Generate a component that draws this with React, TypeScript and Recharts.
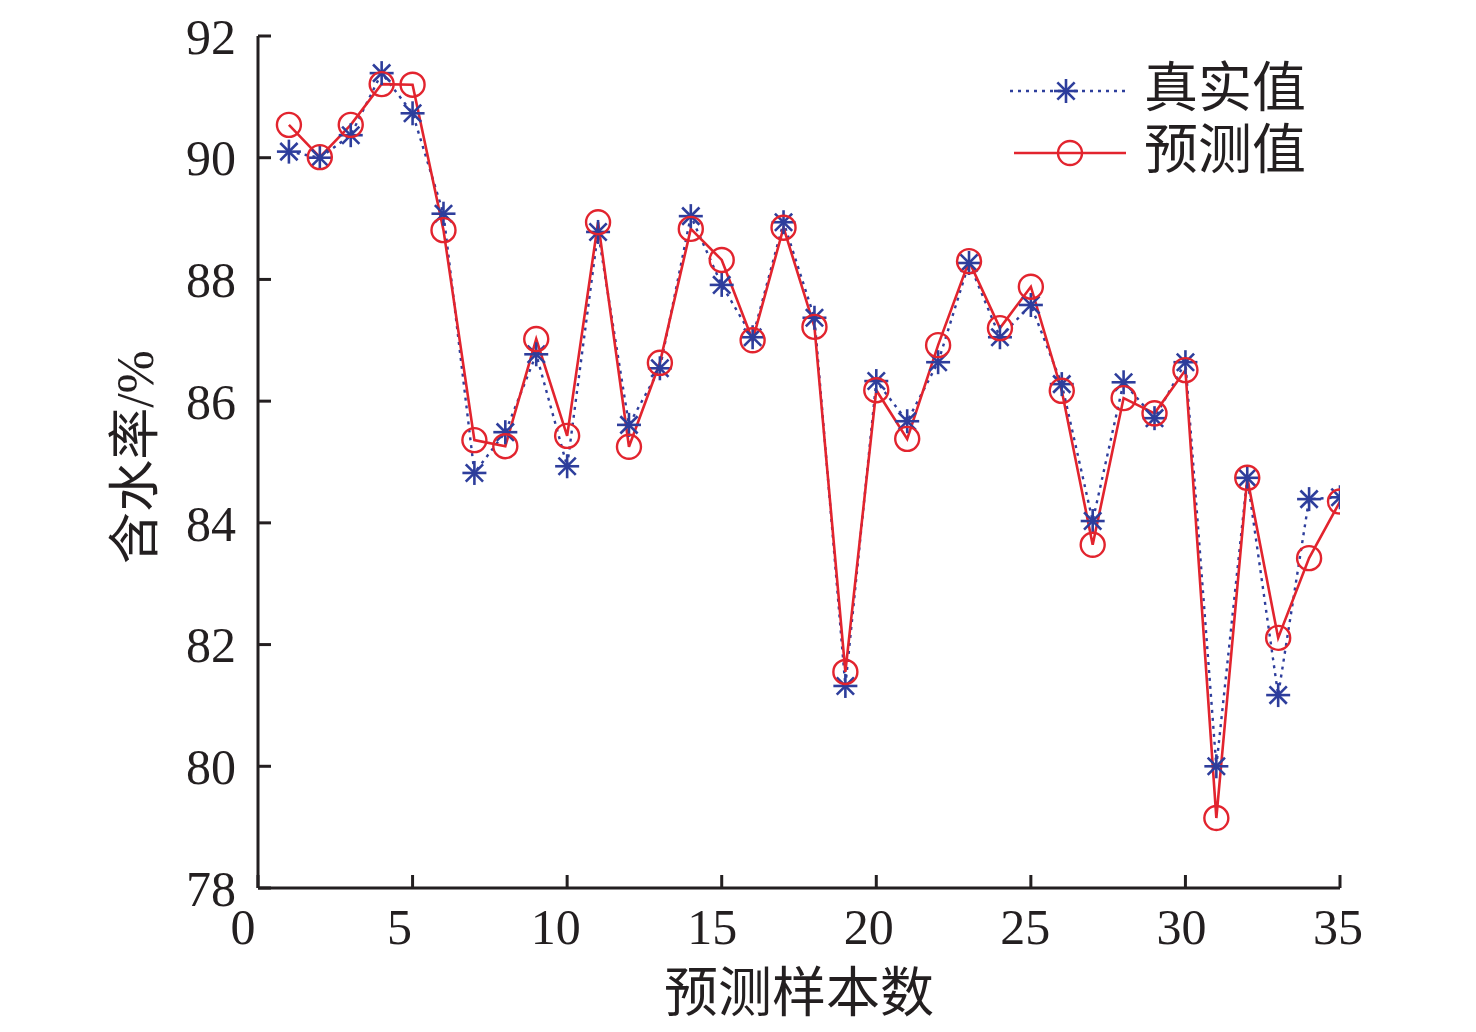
import React from "react";
import { LineChart, Line, XAxis, YAxis } from "recharts";

// sample index 1..35
const samples = Array.from({ length: 35 }, (_, i) => i + 1);

// 真实值 (measured water content, %)
const trueValues = [
  90.1, 90.0, 90.37, 91.39, 90.73, 89.08, 84.82, 85.49, 86.77, 84.93,
  88.78, 85.61, 86.54, 89.04, 87.91, 87.05, 88.94, 87.37, 81.32, 86.33,
  85.67, 86.64, 88.27, 87.05, 87.58, 86.28, 84.03, 86.31, 85.72, 86.64,
  80.0, 84.74, 81.17, 84.39, 84.42,
];

// 预测值 (predicted water content, %)
const predValues = [
  90.54, 90.01, 90.54, 91.21, 91.2, 88.81, 85.36, 85.26, 87.02, 85.43,
  88.94, 85.25, 86.63, 88.83, 88.32, 87.0, 88.85, 87.22, 81.55, 86.18,
  85.38, 86.92, 88.3, 87.2, 87.88, 86.17, 83.64, 86.05, 85.8, 86.51,
  79.15, 84.74, 82.11, 83.42, 84.35,
];

const xTicks = [0, 5, 10, 15, 20, 25, 30, 35];
const yTicks = [78, 80, 82, 84, 86, 88, 90, 92];

const data = samples.map((s, i) => ({
  sample: s,
  actual: trueValues[i],
  predicted: predValues[i],
}));

const BLUE = "#2e3e9c";
const RED = "#e2242e";
const INK = "#231f20";
const SERIF = '"Liberation Serif", "Noto Sans CJK SC", serif';
const TICK_LEN = 13;

const Star = (props: any) => {
  const { cx, cy } = props;
  if (cx == null || cy == null) return null;
  const r = 12;
  const d = r * 0.72;
  return (
    <g stroke={BLUE} strokeWidth={2.6}>
      <line x1={cx - r} y1={cy} x2={cx + r} y2={cy} />
      <line x1={cx} y1={cy - r} x2={cx} y2={cy + r} />
      <line x1={cx - d} y1={cy - d} x2={cx + d} y2={cy + d} />
      <line x1={cx - d} y1={cy + d} x2={cx + d} y2={cy - d} />
    </g>
  );
};

const Ring = (props: any) => {
  const { cx, cy } = props;
  if (cx == null || cy == null) return null;
  return <circle cx={cx} cy={cy} r={12} fill="none" stroke={RED} strokeWidth={2.4} />;
};

// bottom ticks point inward (up), labels hang below the axis
const XTick = (props: any) => {
  const { x, y, payload } = props;
  // labels in the original drift slightly left of their ticks at the low end
  const dx = -15 + (payload.value / 35) * 13;
  return (
    <g>
      <line x1={x} y1={y} x2={x} y2={y - TICK_LEN} stroke={INK} strokeWidth={3} />
      <text
        x={x + dx}
        y={y + 56}
        textAnchor="middle"
        fontSize={50}
        fontFamily={SERIF}
        fill={INK}
      >
        {payload.value}
      </text>
    </g>
  );
};

// left ticks point inward (right)
const YTick = (props: any) => {
  const { x, y, payload } = props;
  return (
    <g>
      <line x1={x} y1={y} x2={x + TICK_LEN} y2={y} stroke={INK} strokeWidth={3} />
      <text
        x={x - 22}
        y={y}
        dy="0.355em"
        textAnchor="end"
        fontSize={50}
        fontFamily={SERIF}
        fill={INK}
      >
        {payload.value}
      </text>
    </g>
  );
};

export default function App() {
  return (
    <div style={{ position: "relative", width: 1468, height: 1016 }}>
      <LineChart
        width={1468}
        height={1016}
        data={data}
        margin={{ top: 28, right: 136, left: 140, bottom: 16 }}
      >
        <XAxis
          dataKey="sample"
          type="number"
          domain={[0, 35]}
          ticks={xTicks}
          allowDataOverflow
          height={120}
          tickSize={0}
          tickMargin={0}
          tickLine={false}
          tick={<XTick />}
          axisLine={{ stroke: INK, strokeWidth: 3 }}
          label={() => (
            <text
              x={799 - 8}
              y={1012 - 8}
              textAnchor="middle"
              fontSize={54}
              fontFamily={SERIF}
              fill={INK}
            >
              预测样本数
            </text>
          )}
        />
        <XAxis
          xAxisId="top"
          dataKey="sample"
          type="number"
          domain={[0, 35]}
          orientation="top"
          height={0}
          tick={false}
          tickLine={false}
          axisLine={{ stroke: INK, strokeWidth: 3 }}
        />
        <YAxis
          type="number"
          domain={[78, 92]}
          ticks={yTicks}
          allowDataOverflow
          width={110}
          tickSize={0}
          tickMargin={0}
          tickLine={false}
          tick={<YTick />}
          axisLine={{ stroke: INK, strokeWidth: 3 }}
          label={() => (
            <text
              x={0}
              y={0}
              transform={`translate(${153 - 8}, ${457 - 8}) rotate(-90)`}
              textAnchor="middle"
              fontSize={52}
              fontFamily={SERIF}
              fill={INK}
            >
              含水率/%
            </text>
          )}
        />
        <YAxis
          yAxisId="right"
          orientation="right"
          type="number"
          domain={[78, 92]}
          width={0}
          tick={false}
          tickLine={false}
          axisLine={{ stroke: INK, strokeWidth: 3 }}
        />
        <Line
          dataKey="actual"
          stroke={BLUE}
          strokeWidth={2.4}
          strokeDasharray="3 5"
          dot={<Star />}
          activeDot={false}
          isAnimationActive={false}
        />
        <Line
          dataKey="predicted"
          stroke={RED}
          strokeWidth={2.6}
          dot={<Ring />}
          activeDot={false}
          isAnimationActive={false}
        />
      </LineChart>
      <div
        style={{
          position: "absolute",
          left: 1002,
          top: 50,
          fontFamily: SERIF,
          fontSize: 54,
          color: INK,
          lineHeight: "62px",
        }}
      >
        <div style={{ display: "flex", alignItems: "center" }}>
          <svg width={116} height={62}>
            <line x1={0} y1={33} x2={116} y2={33} stroke={BLUE} strokeWidth={2.4} strokeDasharray="3 5" />
            <Star cx={56} cy={33} />
          </svg>
          <span style={{ marginLeft: 18 }}>真实值</span>
        </div>
        <div style={{ display: "flex", alignItems: "center" }}>
          <svg width={116} height={62}>
            <line x1={4} y1={33} x2={116} y2={33} stroke={RED} strokeWidth={2.6} />
            <Ring cx={60} cy={33} />
          </svg>
          <span style={{ marginLeft: 18 }}>预测值</span>
        </div>
      </div>
    </div>
  );
}
